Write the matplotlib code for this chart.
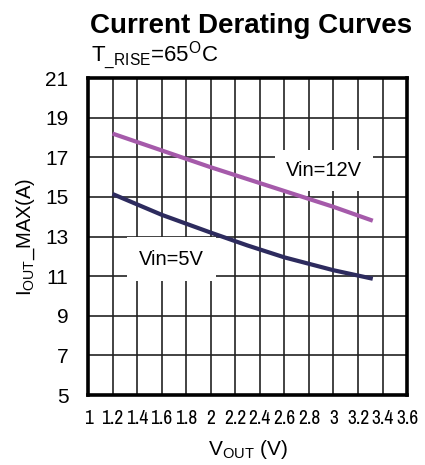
import numpy as np
import matplotlib
matplotlib.use('Agg')
import matplotlib.pyplot as plt
from matplotlib import font_manager

plt.rcParams['font.family'] = ['Liberation Sans', 'DejaVu Sans']
plt.rcParams['mathtext.default'] = 'regular'

# values
vout_12v = [1.2, 1.6, 2.0, 2.4, 2.8, 3.0, 3.32]
iout_12v = [18.2, 17.35, 16.5, 15.7, 14.9, 14.5, 13.8]

vout_5v = [1.2, 1.6, 2.0, 2.3, 2.6, 3.0, 3.32]
iout_5v = [15.15, 14.1, 13.2, 12.55, 11.95, 11.3, 10.87]

x_ticks = [1, 1.2, 1.4, 1.6, 1.8, 2, 2.2, 2.4, 2.6, 2.8, 3, 3.2, 3.4, 3.6]
x_labels = ['1', '1.2', '1.4', '1.6', '1.8', '2', '2.2', '2.4', '2.6', '2.8', '3', '3.2', '3.4', '3.6']
y_ticks = [5, 7, 9, 11, 13, 15, 17, 19, 21]

# narrow face for the x tick labels if one is installed
narrow = None
for f in font_manager.fontManager.ttflist:
    if 'Narrow' in f.name or 'Condensed' in f.name:
        narrow = f.name
        break
if narrow is None:
    for f in font_manager.fontManager.ttflist:
        if f.stretch in ('condensed', 'semi-condensed', 'extra-condensed') and f.style == 'normal' and f.weight in (400, 'normal'):
            narrow = f.name
            break

fig = plt.figure(figsize=(4.25, 4.65), dpi=100)
ax = fig.add_axes([0.207, 0.1505, 0.751, 0.6815])

ax.plot(vout_12v, iout_12v, color='#a55aaa', lw=3, solid_capstyle='butt', zorder=3)
ax.plot(vout_5v, iout_5v, color='#2d2b5e', lw=3, solid_capstyle='butt', zorder=3)

ax.set_xlim(1, 3.6)
ax.set_ylim(5, 21)
ax.set_xticks(x_ticks)
if narrow is not None:
    ax.set_xticklabels(x_labels, family=[narrow, 'Liberation Sans'], fontsize=14)
else:
    ax.set_xticklabels(x_labels, fontsize=11)
ax.set_yticks(y_ticks)
ax.tick_params(axis='y', labelsize=15, length=0, pad=14)
ax.tick_params(axis='x', length=0, pad=10)
ax.grid(True, color='#222222', lw=1.2)
ax.set_axisbelow(True)
for s in ax.spines.values():
    s.set_linewidth(2.6)

ax.text(2.92, 16.35, 'Vin=12V', fontsize=14.5, ha='center', va='center', zorder=2,
        bbox=dict(facecolor='white', edgecolor='none', pad=8))
ax.text(1.68, 11.85, 'Vin=5V', fontsize=14.5, ha='center', va='center', zorder=2,
        bbox=dict(facecolor='white', edgecolor='none', pad=9))

ax.set_ylabel(r'I$_{OUT}$_MAX(A)', fontsize=14.5, labelpad=6)
ax.set_xlabel(r'V$_{OUT}$ (V)', fontsize=15, labelpad=7)

fig.text(0.59, 0.929, 'Current Derating Curves', fontsize=20, fontweight='bold',
         ha='center', va='baseline')
fig.text(0.214, 0.867, r'T$_{\_RISE}$=65$^{O}$C', fontsize=16, ha='left', va='baseline')

fig.savefig('out.png', dpi=100)
